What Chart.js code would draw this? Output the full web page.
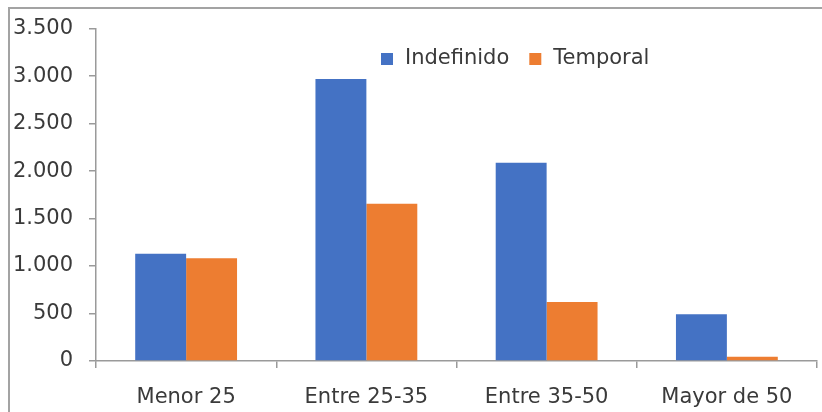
<!DOCTYPE html>
<html>
<head>
<meta charset="utf-8">
<script src="https://cdn.jsdelivr.net/npm/chart.js@4.4.1/dist/chart.umd.min.js"></script>
<style>
  html, body { margin: 0; padding: 0; background: #fff; overflow: hidden; }
  #wrap { position: relative; width: 822px; height: 412px; }
  #frame { position: absolute; left: 8px; top: 7px; width: 900px; height: 500px;
           border-top: 2px solid #a3a3a3; border-left: 2px solid #a3a3a3; box-sizing: border-box; }
  canvas { position: absolute; left: 0; top: 0; }
</style>
</head>
<body>
<div id="wrap">
  <div id="frame"></div>
  <canvas id="c" width="822" height="412"></canvas>
</div>
<script>
// Contratos por tramo de edad
const categories = ['Menor 25', 'Entre 25-35', 'Entre 35-50', 'Mayor de 50'];
const indefinido = [1128, 2970, 2087, 492];
const temporal = [1083, 1655, 622, 45];
const seriesNames = ['Indefinido', 'Temporal'];
const yTicks = [0, 500, 1000, 1500, 2000, 2500, 3000, 3500];

const FONT = "'DejaVu Sans', Verdana, sans-serif";
const TEXT = '#3a3a3a';
const AXIS = '#9a9a9a';

const fmt = v => String(v).replace(/\B(?=(\d{3})+(?!\d))/g, '.');

// Legend drawn inside the plot, near the top
const insideLegend = {
  id: 'insideLegend',
  afterDraw(chart) {
    const ctx = chart.ctx;
    ctx.save();
    ctx.font = '21px ' + FONT;
    ctx.textBaseline = 'middle';
    ctx.textAlign = 'left';
    let x = 381;
    const y = 59;
    chart.data.datasets.forEach(ds => {
      ctx.fillStyle = ds.backgroundColor;
      ctx.fillRect(x, y - 6, 12, 12);
      ctx.fillStyle = TEXT;
      ctx.fillText(ds.label, x + 24, y);
      x += 24 + ctx.measureText(ds.label).width + 20;
    });
    ctx.restore();
  }
};

new Chart(document.getElementById('c'), {
  type: 'bar',
  data: {
    labels: categories,
    datasets: [
      { label: seriesNames[0], data: indefinido, backgroundColor: '#4472C4' },
      { label: seriesNames[1], data: temporal, backgroundColor: '#ED7D31' }
    ]
  },
  options: {
    responsive: false,
    animation: false,
    devicePixelRatio: 1,
    layout: { padding: { left: 0, right: 5, top: 28, bottom: 0 } },
    datasets: { bar: { categoryPercentage: 0.565, barPercentage: 1.0 } },
    plugins: {
      legend: { display: false },
      tooltip: { enabled: false }
    },
    scales: {
      x: {
        grid: { display: true, drawOnChartArea: false, offset: true, color: AXIS, lineWidth: 1.5, tickLength: 7 },
        border: { display: true, color: AXIS, width: 1.5 },
        ticks: { color: TEXT, font: { family: FONT, size: 21 }, padding: 17, maxRotation: 0 },
        afterFit(scale) { scale.height = 51; }
      },
      y: {
        min: 0,
        max: 3500,
        afterBuildTicks(scale) { scale.ticks = yTicks.map(v => ({ value: v })); },
        grid: { display: true, drawOnChartArea: false, color: AXIS, lineWidth: 1.5, tickLength: 7 },
        border: { display: true, color: AXIS, width: 1.5 },
        ticks: { color: TEXT, font: { family: FONT, size: 21 }, padding: 16, callback: v => fmt(v) },
        afterFit(scale) { scale.width = 96; }
      }
    }
  },
  plugins: [insideLegend]
});
</script>
</body>
</html>
